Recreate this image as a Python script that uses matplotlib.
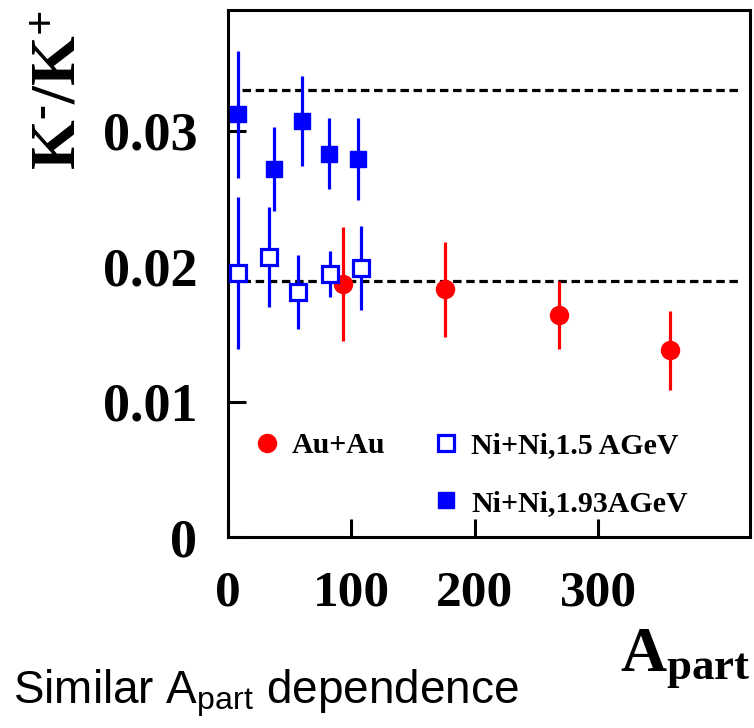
import matplotlib
matplotlib.use('Agg')
import matplotlib.pyplot as plt
from matplotlib.lines import Line2D

plt.rcParams['font.family'] = 'Liberation Serif'
plt.rcParams['font.weight'] = 'bold'
plt.rcParams['mathtext.fontset'] = 'custom'
plt.rcParams['mathtext.rm'] = 'Liberation Serif:bold'
plt.rcParams['mathtext.bf'] = 'Liberation Serif:bold'
plt.rcParams['mathtext.it'] = 'Liberation Serif:bold'
plt.rcParams['mathtext.sf'] = 'Liberation Sans:normal'

# Au+Au
au_x = [93, 176, 268, 358]
au_y = [0.0187, 0.0183, 0.0164, 0.0138]
au_err = [0.0042, 0.0035, 0.0025, 0.0029]

# Ni+Ni, 1.5 AGeV
ni15_x = [8, 33, 57, 83, 108]
ni15_y = [0.0195, 0.0207, 0.0181, 0.0194, 0.0199]
ni15_err = [0.0056, 0.0037, 0.0027, 0.0017, 0.0031]

# Ni+Ni, 1.93 AGeV
ni193_x = [8, 37, 60, 82, 105]
ni193_y = [0.0312, 0.0272, 0.0307, 0.0283, 0.0279]
ni193_err = [0.0047, 0.0031, 0.0033, 0.0026, 0.0030]

ref_levels = [0.0330, 0.0189]
ref_span = [11, 413]

xticks = [0, 100, 200, 300]
yticks = [0, 0.01, 0.02, 0.03]
yticklabels = ['0', '0.01', '0.02', '0.03']

red = '#ff0000'
blue = '#0000ff'

fig = plt.figure(figsize=(7.54, 7.28), dpi=100)
ax = fig.add_axes([0.3024, 0.2617, 0.6923, 0.7246])

ax.hlines(ref_levels, ref_span[0], ref_span[1], colors='black',
          linestyles=(0, (2.65, 1.47)), linewidth=2.3, zorder=1)

ax.errorbar(au_x, au_y, yerr=au_err, fmt='o', color=red, ms=13,
            elinewidth=2.3, capsize=0, zorder=3)
ax.errorbar(ni15_x, ni15_y, yerr=ni15_err, fmt='s', color=blue, ms=12,
            mfc='white', mec=blue, mew=2.3, elinewidth=2.3, capsize=0, zorder=3)
ax.errorbar(ni193_x, ni193_y, yerr=ni193_err, fmt='s', color=blue, ms=12,
            elinewidth=2.3, capsize=0, zorder=3)

ax.set_xlim(0, 423)
ax.set_ylim(0, 0.0389)
ax.set_xticks(xticks)
ax.set_xticklabels([str(v) for v in xticks])
ax.set_yticks(yticks)
ax.set_yticklabels(yticklabels)
ax.tick_params(direction='in', length=13, width=2.2, top=False, right=False)
ax.tick_params(axis='x', pad=24, labelsize=37)
ax.tick_params(axis='y', pad=22, labelsize=39)
for sp in ax.spines.values():
    sp.set_linewidth(2.2)

# legend: two columns, empty slot under Au+Au
handles = [
    Line2D([], [], ls='none', marker='o', color=red, ms=13),
    Line2D([], [], ls='none', marker=None),
    Line2D([], [], ls='none', marker='s', color=blue, ms=12, mfc='white', mew=2.3),
    Line2D([], [], ls='none', marker='s', color=blue, ms=12),
]
labels = ['Au+Au', '', 'Ni+Ni,1.5 AGeV', 'Ni+Ni,1.93AGeV']
ax.legend(handles, labels, ncol=2, loc='upper left', bbox_to_anchor=(0.046, 0.1996),
          frameon=False, fontsize=21.5, borderpad=0, borderaxespad=0,
          handlelength=1.0, handletextpad=0.34, columnspacing=1.53,
          labelspacing=1.03)

fig.text(60 / 754, 1 - 90 / 728, r'$\mathbf{K^{\text{-}}/K^{+}}$', rotation=90,
         ha='center', va='center', fontsize=46)
fig.text(750 / 754, 1 - 670 / 728, r'$\mathbf{A_{part}}$', ha='right',
         va='baseline', fontsize=46)
fig.text(13 / 754, 1 - 704 / 728, r'Similar A$_{\mathsf{part}}$ dependence',
         family='Liberation Sans', weight='normal', ha='left', va='baseline',
         fontsize=33)

fig.savefig('out.png', dpi=100)
